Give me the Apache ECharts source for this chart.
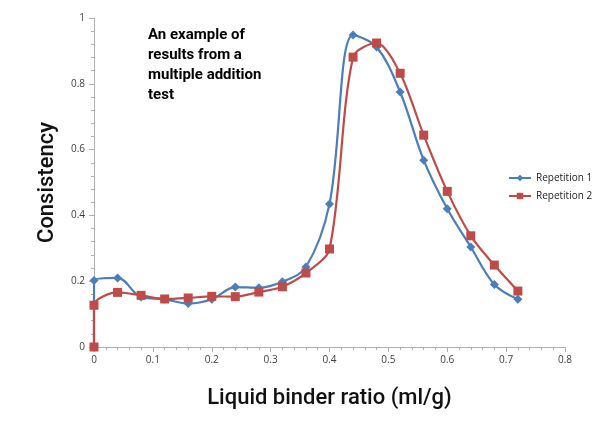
<!DOCTYPE html>
<html><head><meta charset="utf-8">
<script src="https://cdn.jsdelivr.net/npm/echarts@6/dist/echarts.min.js"></script>
<style>html,body{margin:0;padding:0;background:#fff}#c{width:600px;height:427px}</style>
</head><body><div id="c"></div>
<script>
const xTicks = [0, 0.1, 0.2, 0.3, 0.4, 0.5, 0.6, 0.7, 0.8];
const yTicks = [0, 0.2, 0.4, 0.6, 0.8, 1];
const rep1X = [0, 0, 0.04, 0.08, 0.12, 0.16, 0.2, 0.24, 0.28, 0.32, 0.36, 0.4, 0.44, 0.48, 0.52, 0.56, 0.6, 0.64, 0.68, 0.72];
const rep1Y = [0, 0.202, 0.21, 0.152, 0.145, 0.132, 0.145, 0.182, 0.18, 0.198, 0.243, 0.435, 0.948, 0.912, 0.775, 0.568, 0.42, 0.304, 0.19, 0.145];
const rep2X = [0, 0, 0.04, 0.08, 0.12, 0.16, 0.2, 0.24, 0.28, 0.32, 0.36, 0.4, 0.44, 0.48, 0.52, 0.56, 0.6, 0.64, 0.68, 0.72];
const rep2Y = [0, 0.127, 0.166, 0.157, 0.146, 0.149, 0.154, 0.153, 0.167, 0.183, 0.225, 0.298, 0.881, 0.924, 0.832, 0.644, 0.473, 0.338, 0.249, 0.17];
const seriesNames = ['Repetition 1', 'Repetition 2'];
const note = ['An example of', 'results from a', 'multiple addition', 'test'];

const zip = (xs, ys) => xs.map((x, i) => [x, ys[i]]);
const chart = echarts.init(document.getElementById('c'));
const tickFont = {fontFamily: 'Open Sans', fontSize: 10, color: '#404040'};
chart.setOption({
  animation: false,
  grid: {left: 94, right: 35, top: 18, bottom: 80},
  xAxis: {
    type: 'value', min: 0, max: 0.8, interval: 0.1,
    name: 'Liquid binder ratio (ml/g)', nameLocation: 'middle', nameGap: 40,
    nameTextStyle: {fontFamily: 'Roboto', fontWeight: 500, fontSize: 22, color: '#111'},
    axisLine: {show: true, lineStyle: {color: '#b0b0b0'}},
    axisTick: {show: true, length: 5, lineStyle: {color: '#b0b0b0'}},
    minorTick: {show: true, splitNumber: 5, length: 3, lineStyle: {color: '#b0b0b0'}},
    splitLine: {show: false},
    axisLabel: Object.assign({margin: 8}, tickFont)
  },
  yAxis: {
    type: 'value', min: 0, max: 1, interval: 0.2,
    name: 'Consistency', nameLocation: 'middle', nameGap: 36,
    nameTextStyle: {fontFamily: 'Roboto', fontWeight: 500, fontSize: 22, color: '#111'},
    axisLine: {show: true, lineStyle: {color: '#b0b0b0'}},
    axisTick: {show: true, length: 5, lineStyle: {color: '#b0b0b0'}},
    minorTick: {show: true, splitNumber: 5, length: 3, lineStyle: {color: '#b0b0b0'}},
    splitLine: {show: false},
    axisLabel: Object.assign({margin: 9}, tickFont)
  },
  legend: {
    orient: 'vertical', left: 503, top: 168, itemGap: 8, itemWidth: 22, itemHeight: 8,
    textStyle: {fontFamily: 'Open Sans', fontSize: 10, color: '#222'},
    data: seriesNames
  },
  graphic: [{
    type: 'text', left: 148, top: 25,
    style: {text: note.join('\n'), fontFamily: 'Roboto', fontWeight: 'bold', fontSize: 15, lineHeight: 20, fill: '#000'}
  }],
  series: [
    {name: seriesNames[0], type: 'line', smooth: 0.35, data: zip(rep1X, rep1Y),
     symbol: 'diamond', symbolSize: 9, color: '#4A7EBB', lineStyle: {width: 2.2}},
    {name: seriesNames[1], type: 'line', smooth: 0.3, data: zip(rep2X, rep2Y),
     symbol: 'rect', symbolSize: 9, color: '#BE4B48', lineStyle: {width: 2.2}}
  ]
});
</script></body></html>
